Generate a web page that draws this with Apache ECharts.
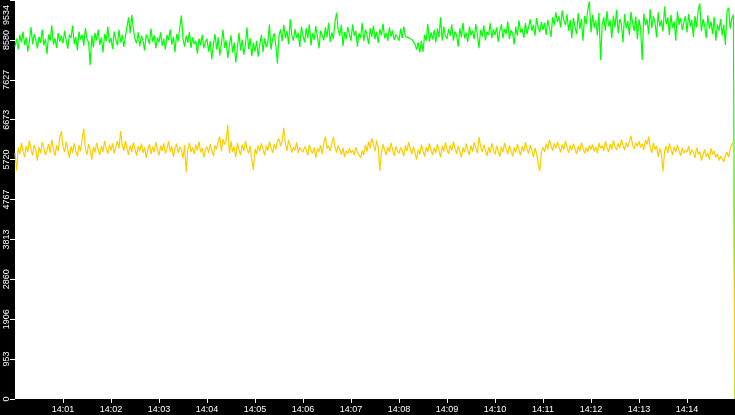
<!DOCTYPE html>
<html><head><meta charset="utf-8">
<script src="https://cdn.jsdelivr.net/npm/echarts@6/dist/echarts.min.js"></script>
<style>html,body{margin:0;padding:0;background:#000}#c{width:735px;height:415px}</style>
</head><body><div id="c"></div>
<script>
// Time range: 14:00:00 to 14:15:00, one sample every 2 seconds, last sample at 14:15:00
const startTime = new Date(2024, 0, 1, 14, 0, 0).getTime();
const endTime = new Date(2024, 0, 1, 14, 15, 0).getTime();
const stepMs = 2000;

const greenValues = [
8420,8610,8350,8700,8520,8780,8460,8640,8300,8550,8890,8480,8720,8590,8380,8660,8510,8830,8450,8600,8240,8710,8560,8930,8470,8620,8390,8750,8540,8680,
8500,8800,8560,8370,8710,8620,8920,8480,8650,8330,8780,8590,8700,8440,8860,8610,8520,7980,8690,8400,8750,8570,8830,8460,8640,8280,8720,8550,8900,8510,
8630,8360,8780,8590,8450,8820,8520,8700,8410,8660,8890,9120,8740,9180,8830,8600,8500,8760,8430,8680,8560,8330,8710,8620,8480,8850,8540,8690,8380,8640,
8520,8760,8440,8610,8350,8700,8580,8830,8470,8650,8290,8720,8550,8880,9160,8600,8420,8680,8510,8770,8390,8640,8480,8560,8250,8610,8450,8700,8380,8530,
8610,8300,8550,8120,8480,8720,8350,8640,8210,8500,8830,8390,8570,8150,8460,8690,8280,8520,8040,8400,8750,8330,8590,8230,8470,8880,8360,8620,8190,8510,
8300,8560,8180,8480,8700,8290,8620,8410,8520,8950,8350,8600,8740,8460,8020,8680,8830,8550,8940,8620,8790,8480,9080,8700,8560,8840,8630,8750,8410,8900,
8680,8520,8860,8620,8950,8450,8740,8580,8910,8660,8380,8800,8690,8570,8880,8640,8990,8530,8760,8610,9010,9230,8820,8680,8940,8430,8770,8600,8890,8710,
8560,8950,8680,8800,8420,8740,8620,8990,8550,8830,8700,8480,8860,8650,8920,8600,8780,8510,8840,8690,8970,8620,8740,8560,8880,8660,8800,8580,8710,8650,
8560,8850,8620,8900,8660,8650,8630,8620,8590,8540,8480,8350,8520,8280,8560,8300,8700,8560,8960,8540,8760,8590,8820,8520,8850,8640,9120,8560,8900,8680,
8600,8840,8680,8950,8560,8780,8700,8420,8860,8640,8990,8620,8750,8530,8900,8690,8800,8600,8960,8710,8380,8820,8660,8930,8570,8780,8700,8980,8620,8840,
8700,8880,8540,8790,8950,8620,8840,8720,9020,8600,8810,8740,8470,8900,8680,9050,8760,8850,8630,8980,8720,8890,9070,8800,8940,8680,9100,8860,8760,9010,
8820,8990,8700,9060,8860,8650,9120,8930,9240,9010,9150,8880,9280,9050,8940,9190,8800,9060,8620,9110,8900,8720,9220,8840,9080,8560,9150,8950,9300,9500,
8760,9180,8870,9050,8690,9230,8100,8950,9120,8800,9270,8910,9050,8620,9160,8880,9300,8740,9080,8950,8520,9200,8860,9030,8700,9250,8980,8790,9140,8600,
9070,8850,8100,9210,8930,9080,8720,9320,8860,9150,8990,8640,9240,8900,9050,8780,9380,8950,9120,8700,9180,8870,9020,8560,9260,8940,9100,8820,8990,9150,
8760,9200,8900,9060,8650,9150,8880,9300,9450,8790,9080,8930,8620,9170,8850,9020,8720,9130,8560,8950,8800,9080,8690,8940,8460,9260,9350,8850,9100,9180,
0];

const orangeValues = [
5880,5460,6010,5850,6120,5930,5780,6050,5900,6180,5960,5820,6080,5940,5700,6020,5870,6140,5990,5830,5950,6090,5880,6200,5970,5810,6060,5920,6250,6400,
6030,5900,6150,5960,5760,6040,5880,6110,5940,5800,6070,5920,6230,6460,5980,5840,6090,5950,5720,6030,5890,6120,5960,5830,6050,5910,6170,5990,5860,6080,
5940,6110,5870,6020,6160,5990,6400,6080,5930,6170,5980,5830,6060,5900,6130,5970,5810,6040,5920,6100,5880,6010,5760,5960,6090,5850,6030,5900,6140,5960,
5820,6050,5930,6110,5870,5990,6160,5910,6040,5790,5980,6100,5880,6030,5950,5750,6070,5420,5960,6120,5900,6010,5850,6080,5940,6150,5890,6000,5770,5960,
6030,5880,6090,5940,5810,6060,5970,6140,6270,5920,6210,6080,6190,6550,5870,6160,5900,6030,5780,6120,5960,5830,6080,5920,6170,5990,5870,6050,5700,5470,
5980,5850,6060,5920,6110,5970,5820,6050,5930,6150,6010,5880,6090,5960,6170,6220,6040,6170,6480,6110,5930,6190,6060,5890,6020,5940,6130,5880,6010,5950,
5900,6030,5960,5820,6080,5940,5870,6010,5760,5990,5910,6060,5850,6120,6270,5980,6050,5920,6110,6260,6020,5890,6060,5950,5840,6000,5780,5930,5870,5990,
5880,5950,5820,6020,5900,5860,5760,5940,5830,6070,5910,6150,5990,6230,6080,5920,6180,6010,5450,5880,6090,5950,5830,6030,5900,6120,5960,5810,6040,5930,
5870,6010,5940,5800,6060,5920,6140,5980,5850,6030,5890,5720,5960,5840,6080,5930,5790,6020,5900,6110,5950,5830,6000,5880,6090,5940,5780,6050,5910,6130,
5970,5850,6070,5930,6150,5990,5860,6040,5920,5780,6010,5890,6100,5950,5830,6060,5910,6140,6000,5870,6260,6030,5900,6080,5940,5810,6020,5880,6110,5960,
5840,6050,5920,5790,6030,5900,6120,5970,5850,6060,5930,5800,6010,5890,6090,5950,5820,6040,5910,6140,5980,5860,6070,5940,5780,6000,5870,5620,5450,5900,
6020,5900,6100,5960,6190,6050,5930,6110,5990,6140,6030,5890,6080,5960,6170,6020,5880,6060,5940,6100,5980,5850,6040,5920,6130,5990,5870,6010,5900,6060,
5960,6080,5910,6030,5870,6120,5990,6050,5930,6160,6010,5900,6090,5960,6180,6030,5950,6110,5990,6200,6060,5940,6130,6020,6150,6290,6070,5980,6120,6040,
6160,6010,6100,5950,6190,6080,6270,6020,5880,6120,5960,6050,5780,5990,5860,5440,5920,6040,5880,6110,5960,5830,6030,5900,6070,5940,5810,6000,5870,5950,
5900,6040,5820,5960,5880,5760,6010,5850,5920,5700,5830,5960,5790,5880,5720,5990,5840,5930,5770,5860,5700,5800,5750,5660,5820,5900,5780,5970,6080,6140,
0];

const yMax = 9534;
const yTickLabels = ['0','953','1906','2860','3813','4767','5720','6673','7627','8580','9534'];
const xTickLabels = ['14:01','14:02','14:03','14:04','14:05','14:06','14:07','14:08','14:09','14:10','14:11','14:12','14:13','14:14'];
const xTickValues = xTickLabels.map(function (s) {
  const p = s.split(':');
  return new Date(2024, 0, 1, +p[0], +p[1], 0).getTime();
});

function pair(vals) {
  return vals.map((v, i) => [startTime + i * stepMs, v]);
}

const chart = echarts.init(document.getElementById('c'));
chart.setOption({
  animation: false,
  backgroundColor: '#000',
  grid: { left: 15, right: 0, top: 0, bottom: 16, show: true, backgroundColor: '#fff', borderWidth: 0,
          containLabel: false, outerBoundsMode: 'none' },
  xAxis: {
    type: 'value', min: startTime, max: endTime, interval: 60000,
    axisLine: { show: false },
    axisTick: { show: true, length: 4, customValues: xTickValues, lineStyle: { color: '#fff', width: 1 } },
    splitLine: { show: false },
    axisLabel: {
      color: '#fff', fontSize: 9, fontFamily: 'Liberation Sans', margin: 6,
      customValues: xTickValues,
      formatter: function (v) { return xTickLabels[xTickValues.indexOf(v)]; }
    }
  },
  yAxis: {
    type: 'value', min: 0, max: yMax, interval: yMax / 10,
    axisLine: { show: false },
    axisTick: { show: true, length: 5, lineStyle: { color: '#fff', width: 1 } },
    splitLine: { show: false },
    axisLabel: {
      color: '#fff', fontSize: 9, fontFamily: 'Liberation Sans', rotate: 90, margin: 4,
      formatter: function (v) {
        const i = Math.round(v / (yMax / 10));
        return i === 10 ? '{top|' + yTickLabels[i] + '}' : yTickLabels[i];
      },
      rich: { top: { width: 50, align: 'left', color: '#fff', fontSize: 9, fontFamily: 'Liberation Sans' } }
    }
  },
  series: [
    { type: 'line', data: pair(greenValues), showSymbol: false, symbol: 'none', sampling: 'none',
      lineStyle: { color: '#00ff00', width: 1.2 }, itemStyle: { color: '#00ff00' } },
    { type: 'line', data: pair(orangeValues), showSymbol: false, symbol: 'none', sampling: 'none',
      lineStyle: { color: '#ffcc00', width: 1.2 }, itemStyle: { color: '#ffcc00' } }
  ]
});
</script>
</body></html>
